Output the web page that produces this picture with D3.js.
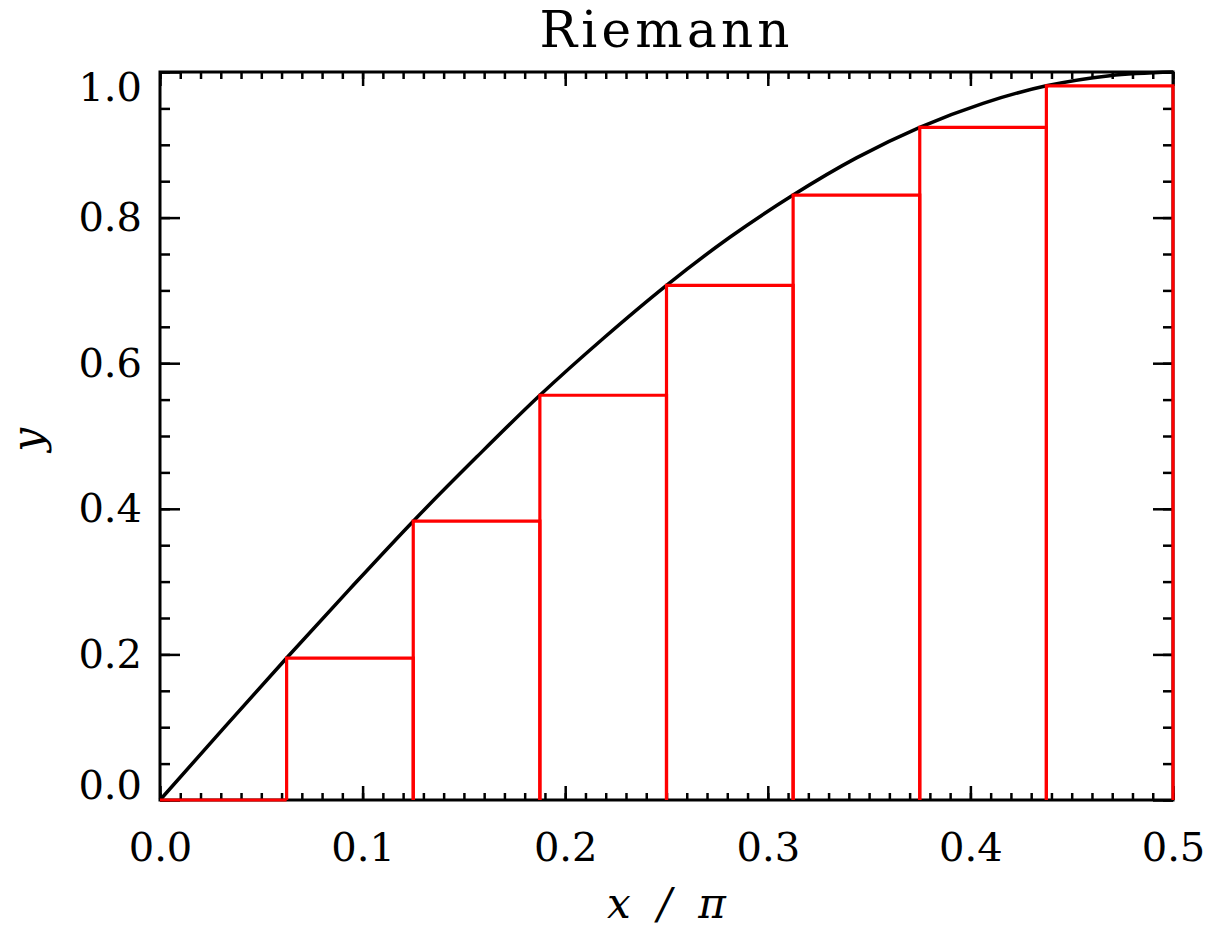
<!DOCTYPE html>
<html>
<head>
<meta charset="utf-8">
<script src="https://cdn.jsdelivr.net/npm/d3@7"></script>
<style>
  body { margin: 0; background: #fff; }
  svg { display: block; }
</style>
</head>
<body>
<svg width="1207" height="929"></svg>
<script>
// curve samples y = sin(x), x in units of pi
const curveX = [0, 0.03125, 0.0625, 0.09375, 0.125, 0.15625, 0.1875, 0.21875, 0.25, 0.28125, 0.3125, 0.34375, 0.375, 0.40625, 0.4375, 0.46875, 0.5];
const curveY = [0, 0.098, 0.195, 0.290, 0.383, 0.471, 0.556, 0.634, 0.707, 0.773, 0.831, 0.882, 0.924, 0.957, 0.981, 0.995, 1.0];

// left Riemann sum boxes
const binLeft = [0, 0.0625, 0.125, 0.1875, 0.25, 0.3125, 0.375, 0.4375];
const binRight = [0.0625, 0.125, 0.1875, 0.25, 0.3125, 0.375, 0.4375, 0.5];
const binHeight = [0, 0.195, 0.383, 0.556, 0.707, 0.831, 0.924, 0.981];

const xMajor = [0, 0.1, 0.2, 0.3, 0.4, 0.5];
const yMajor = [0, 0.2, 0.4, 0.6, 0.8, 1.0];

const svg = d3.select('svg');
const margin = {left: 160, top: 72, right: 34, bottom: 129};
const W = 1207 - margin.left - margin.right;
const H = 929 - margin.top - margin.bottom;
const font = "'DejaVu Serif', serif";

const g = svg.append('g').attr('transform', `translate(${margin.left},${margin.top})`);

const x = d3.scaleLinear().domain([0, 0.5]).range([0, W]);
const y = d3.scaleLinear().domain([0, 1]).range([H, 0]);

const xMinor = d3.range(0, 51).map(d => d / 100);
const yMinor = d3.range(0, 21).map(d => d / 20);

// minor ticks (all four sides, pointing inward)
function ticksOnly(axis, values, size) {
	return axis.tickValues(values).tickSizeInner(size).tickSizeOuter(0).tickFormat('');
}
g.append('g').attr('transform', `translate(0,${H})`).call(ticksOnly(d3.axisBottom(x), xMinor, -7));
g.append('g').call(ticksOnly(d3.axisTop(x), xMinor, -7));
g.append('g').call(ticksOnly(d3.axisLeft(y), yMinor, -10));
g.append('g').attr('transform', `translate(${W},0)`).call(ticksOnly(d3.axisRight(y), yMinor, -10));
g.append('g').call(ticksOnly(d3.axisTop(x), xMajor, -14));
g.append('g').attr('transform', `translate(${W},0)`).call(ticksOnly(d3.axisRight(y), yMajor, -20));

// major ticks with labels
const xAxis = g.append('g')
	.attr('transform', `translate(0,${H})`)
	.call(d3.axisBottom(x).tickValues(xMajor).tickSizeInner(-14).tickSizeOuter(0).tickPadding(33).tickFormat(d3.format('.1f')));
const yAxis = g.append('g')
	.call(d3.axisLeft(y).tickValues(yMajor).tickSizeInner(-20).tickSizeOuter(0).tickPadding(18).tickFormat(d3.format('.1f')));

g.selectAll('.tick line').attr('stroke', '#000').attr('stroke-width', 2.5);
g.selectAll('.domain').remove();
g.selectAll('.tick text').attr('font-family', font).attr('font-size', 40).attr('fill', '#000');

// keep end labels inside the frame, like the original
yAxis.selectAll('.tick text').attr('dy', d => d === 0 ? '-0.05em' : d === 1 ? '0.7em' : '0.32em');

// frame
g.append('rect')
	.attr('width', W).attr('height', H)
	.attr('fill', 'none').attr('stroke', '#000').attr('stroke-width', 3);

// curve
const line = d3.line()
	.x((d, i) => x(curveX[i]))
	.y(d => y(d))
	.curve(d3.curveMonotoneX);
g.append('path')
	.attr('d', line(curveY))
	.attr('fill', 'none')
	.attr('stroke', '#000')
	.attr('stroke-width', 3.5);

// boxes (no bottom edge except the zero-height one)
g.selectAll('.box')
	.data(binHeight)
	.enter()
	.append('path')
	.attr('class', 'box')
	.attr('d', (d, i) => `M${x(binLeft[i])},${y(0)} L${x(binLeft[i])},${y(d)} L${x(binRight[i])},${y(d)} L${x(binRight[i])},${y(0)}`)
	.attr('fill', 'none')
	.attr('stroke', '#ff0000')
	.attr('stroke-width', 3.2);

// title and axis titles
svg.append('text')
	.attr('x', margin.left + W / 2 - 2)
	.attr('y', 47)
	.attr('text-anchor', 'middle')
	.attr('font-family', font)
	.attr('font-size', 50)
	.attr('textLength', 250)
	.attr('lengthAdjust', 'spacing')
	.text('Riemann');

svg.append('text')
	.attr('x', margin.left + W / 2)
	.attr('y', 918)
	.attr('text-anchor', 'middle')
	.attr('font-family', font)
	.attr('font-style', 'italic')
	.attr('font-size', 42)
	.style('white-space', 'pre')
	.text('x  /  π');

svg.append('text')
	.attr('transform', `translate(42,${margin.top + H / 2 + 4}) rotate(-90)`)
	.attr('text-anchor', 'middle')
	.attr('font-family', font)
	.attr('font-style', 'italic')
	.attr('font-size', 42)
	.text('y');
</script>
</body>
</html>
